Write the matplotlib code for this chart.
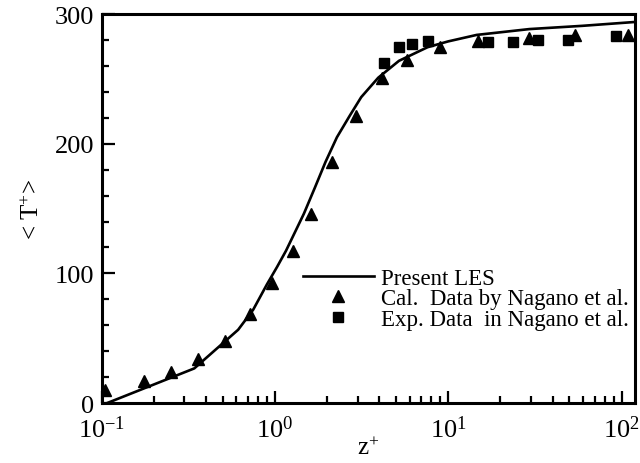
import matplotlib
matplotlib.use("Agg")
import matplotlib.pyplot as plt
from matplotlib.ticker import LogLocator, MultipleLocator, LogFormatterMathtext, NullFormatter

plt.rcParams["font.family"] = ["Liberation Serif", "DejaVu Serif"]
plt.rcParams["mathtext.fontset"] = "custom"
plt.rcParams["mathtext.rm"] = "Liberation Serif"
plt.rcParams["mathtext.it"] = "Liberation Serif:italic"
plt.rcParams["mathtext.bf"] = "Liberation Serif:bold"

# Present LES mean temperature profile
les_z = [0.108, 0.343, 0.614, 0.75, 0.90, 1.03, 1.16, 1.47, 1.70, 1.96, 2.28,
         2.70, 3.15, 3.95, 5.2, 7.6, 10.0, 14.6, 29.4, 59.4, 120.0]
les_t = [0.0, 26.7, 56.5, 72.0, 91.5, 105.0, 117.5, 146.0, 166.0, 186.0, 205.0,
         221.5, 236.0, 251.0, 264.0, 274.5, 279.0, 284.0, 288.5, 291.0, 294.0]

# Calculated data by Nagano et al.
cal_z = [0.105, 0.175, 0.251, 0.358, 0.513, 0.721, 0.963, 1.27, 1.61, 2.15,
         2.93, 4.13, 5.78, 8.93, 14.9, 29.4, 54.0, 109.0]
cal_t = [9.9, 16.9, 24.2, 33.8, 48.1, 68.3, 92.7, 116.9, 146.0, 185.6,
         221.5, 250.8, 264.9, 274.9, 279.5, 282.0, 284.0, 284.0]

# Experimental data in Nagano et al.
exp_z = [4.26, 5.21, 6.22, 7.65, 17.0, 23.5, 33.1, 49.2, 93.5]
exp_t = [262.3, 274.4, 276.9, 279.2, 278.2, 278.7, 280.3, 280.3, 282.8]

fig = plt.figure(figsize=(6.4, 4.64), dpi=100)
ax = fig.add_axes([0.1586, 0.1293, 0.834, 0.838])

ax.plot(les_z, les_t, color="black", lw=1.9, label="Present LES", zorder=3)
ax.plot(cal_z, cal_t, ls="none", marker="^", ms=8.5, color="black",
        label="Cal.  Data by Nagano et al.", zorder=4)
ax.plot(exp_z, exp_t, ls="none", marker="s", ms=7, color="black",
        label="Exp. Data  in Nagano et al.", zorder=4)

ax.set_xscale("log")
ax.set_xlim(0.1, 120)
ax.set_ylim(0, 300)

ax.xaxis.set_major_locator(LogLocator(base=10, numticks=10))
ax.xaxis.set_major_formatter(LogFormatterMathtext())
ax.xaxis.set_minor_locator(LogLocator(base=10, subs=range(2, 10), numticks=20))
ax.xaxis.set_minor_formatter(NullFormatter())
ax.yaxis.set_major_locator(MultipleLocator(100))
ax.yaxis.set_minor_locator(MultipleLocator(20))

ax.tick_params(which="both", direction="in", top=False, right=False,
               labelsize=19, width=1.6)
ax.tick_params(which="major", length=9)
ax.tick_params(axis="x", which="major", pad=9)
ax.tick_params(axis="y", which="major", pad=5)
ax.tick_params(which="minor", length=5)
for s in ax.spines.values():
    s.set_linewidth(2.2)

ax.set_xlabel("z$^{+}$", fontsize=18, labelpad=-4)
ax.set_ylabel("< T$^{+}$>", fontsize=18, labelpad=8)

leg = ax.legend(loc="upper left", bbox_to_anchor=(0.36, 0.372), frameon=False,
                fontsize=16.5, handlelength=3.1, handletextpad=0.3,
                labelspacing=-0.02, borderaxespad=0)

fig.savefig("out.png", dpi=100)
